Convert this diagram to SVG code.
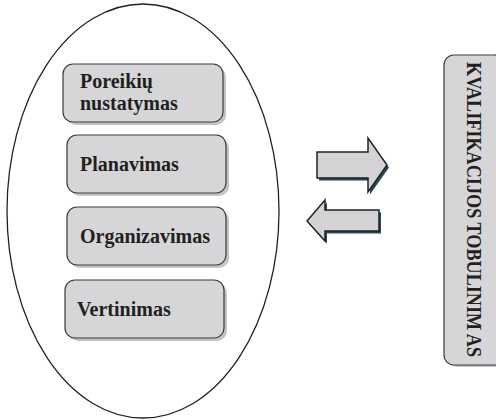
<svg xmlns="http://www.w3.org/2000/svg" width="496" height="420" viewBox="0 0 496 420">
<defs>
<style>
.box{fill:#d6d6d8;stroke:#3a3a3a;stroke-width:1.2}
.sh{fill:#c4c4c4}
.lbl{font-family:'Liberation Serif','Times New Roman',serif;font-weight:bold;font-size:20px;fill:#231f20}
.arr{fill:#d3d3d5;stroke:#222;stroke-width:1.5;stroke-linejoin:miter}
.ash{fill:#1e4d58}
</style>
</defs>
<rect width="496" height="420" fill="#fff"/>
<g id="ellipse">
<ellipse cx="143" cy="211" rx="136" ry="207" fill="none" stroke="#222" stroke-width="1.3"/>
</g>
<g id="n1">
<rect class="sh" x="66" y="67" width="160" height="58" rx="10"/>
<rect class="box" x="63" y="64" width="160" height="58" rx="10"/>
<text class="lbl" x="80" y="88">Poreikių</text>
<text class="lbl" x="80" y="110">nustatymas</text>
</g>
<g id="n2">
<rect class="sh" x="70" y="138" width="159" height="58" rx="10"/>
<rect class="box" x="67" y="135" width="159" height="58" rx="10"/>
<text class="lbl" x="80" y="171">Planavimas</text>
</g>
<g id="n3">
<rect class="sh" x="70" y="210" width="159" height="58" rx="10"/>
<rect class="box" x="67" y="207" width="159" height="58" rx="10"/>
<text class="lbl" x="80" y="243">Organizavimas</text>
</g>
<g id="n4">
<rect class="sh" x="68" y="283" width="159" height="58" rx="10"/>
<rect class="box" x="65" y="280" width="159" height="58" rx="10"/>
<text class="lbl" x="77" y="316">Vertinimas</text>
</g>
<g id="connectors">
<polygon class="ash" transform="translate(2,2.5)" points="317,152 368,152 368,138 387,165 368,192 368,178 317,178"/>
<polygon class="arr" points="317,152 368,152 368,138 387,165 368,192 368,178 317,178"/>
<polygon class="ash" transform="translate(2,2.5)" points="379,210 325,210 325,200 307,221 325,241 325,231 379,231"/>
<polygon class="arr" points="379,210 325,210 325,200 307,221 325,241 325,231 379,231"/>
</g>
<g id="n5">
<rect class="sh" x="447" y="57" width="60" height="310" rx="10"/>
<rect class="box" x="444" y="55" width="60" height="310" rx="10"/>
<text class="lbl" x="467" y="62" font-size="20" textLength="295" lengthAdjust="spacingAndGlyphs" transform="rotate(90 467 62)">KVALIFIKACIJOS TOBULINIM AS</text>
</g>
</svg>
